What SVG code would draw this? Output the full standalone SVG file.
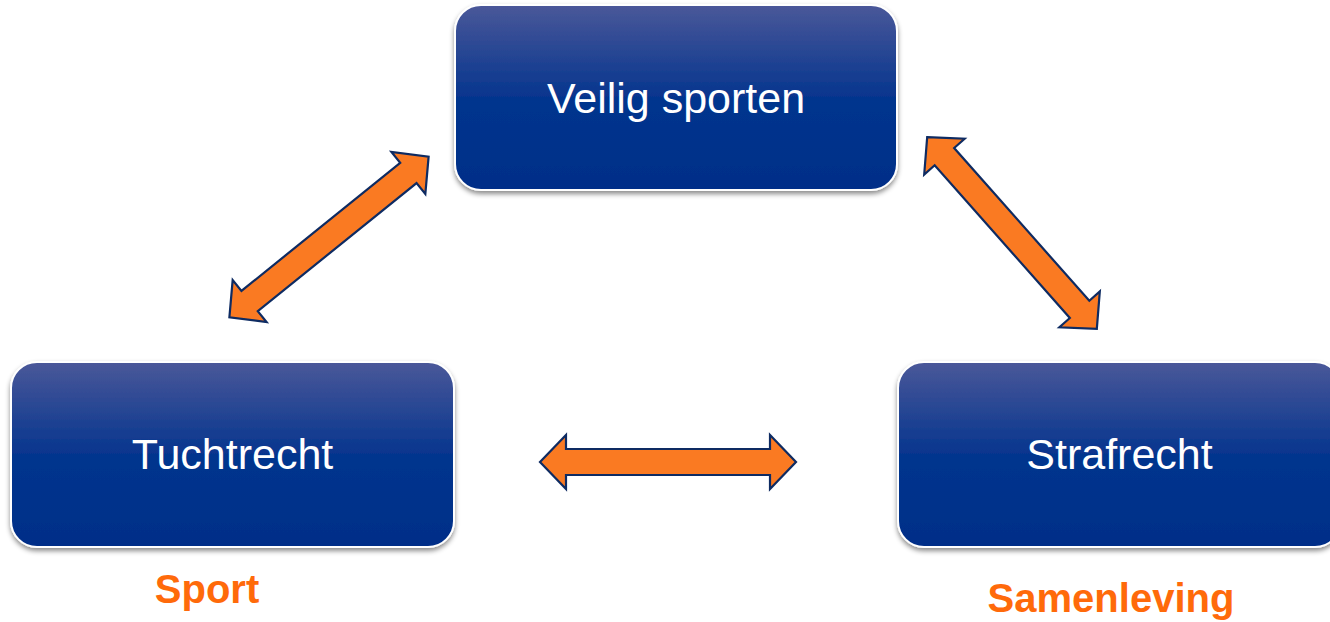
<svg xmlns="http://www.w3.org/2000/svg" width="1330" height="622" viewBox="0 0 1330 622">
<defs>
<linearGradient id="boxGrad" x1="0" y1="0" x2="0" y2="1">
<stop offset="0" stop-color="#4a5899"/>
<stop offset="0.5" stop-color="#06358e"/>
<stop offset="1" stop-color="#002e88"/>
</linearGradient>
<filter id="shadow" x="-5%" y="-5%" width="110%" height="120%">
<feDropShadow dx="0" dy="3" stdDeviation="2.5" flood-color="#000" flood-opacity="0.45"/>
</filter>
<polygon id="arr" points="-128,0 -102,-27 -102,-13 102,-13 102,-27 128,0 102,27 102,13 -102,13 -102,27"/>
</defs>
<style>
.box{fill:url(#boxGrad);stroke:#ffffff;stroke-width:2;filter:url(#shadow)}
.lbl{font-family:"Liberation Sans",Arial,sans-serif;font-size:43px;fill:#ffffff;text-anchor:middle}
.cap{font-family:"Liberation Sans",Arial,sans-serif;font-size:40px;font-weight:bold;fill:#ff6a0a;text-anchor:middle}
.arrow{fill:#fa7a22;stroke:#0e2b62;stroke-width:2.2;stroke-linejoin:miter}
</style>
<rect width="1330" height="622" fill="#ffffff"/>
<g id="connectors">
<use href="#arr" class="arrow" transform="translate(329,237) rotate(-38.9)"/>
<use href="#arr" class="arrow" transform="translate(1012,233) rotate(48.5)"/>
<use href="#arr" class="arrow" transform="translate(668,462)"/>
</g>
<g id="node-veilig">
<rect class="box" x="455" y="5" width="442" height="185" rx="26"/>
<text class="lbl" x="676" y="113">Veilig sporten</text>
</g>
<g id="node-tuchtrecht">
<rect class="box" x="11" y="362" width="443" height="185" rx="26"/>
<text class="lbl" x="232.5" y="469">Tuchtrecht</text>
</g>
<g id="node-strafrecht">
<rect class="box" x="898" y="362" width="443" height="185" rx="26"/>
<text class="lbl" x="1119.5" y="469">Strafrecht</text>
</g>
<g id="label-sport">
<text class="cap" x="207" y="603">Sport</text>
</g>
<g id="label-samenleving">
<text class="cap" x="1111" y="612">Samenleving</text>
</g>
</svg>
